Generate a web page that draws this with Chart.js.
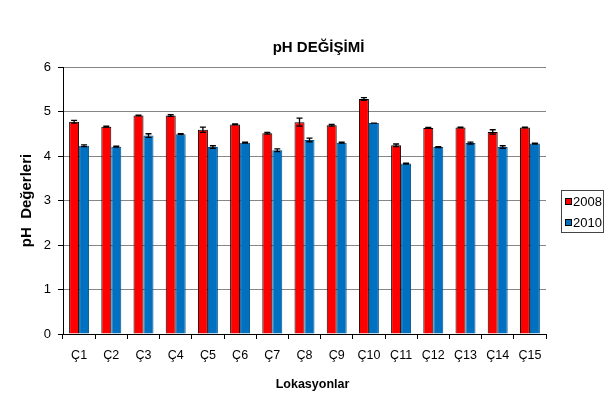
<!DOCTYPE html>
<html>
<head>
<meta charset="utf-8">
<script src="https://cdn.jsdelivr.net/npm/chart.js@4.4.0/dist/chart.umd.min.js"></script>
<style>
  html, body { margin: 0; padding: 0; background: #fff; }
  #wrap { width: 610px; height: 414px; }
</style>
</head>
<body>
<div id="wrap"><canvas id="phChart"></canvas></div>
<script>
const locations = ['Ç1', 'Ç2', 'Ç3', 'Ç4', 'Ç5', 'Ç6', 'Ç7', 'Ç8', 'Ç9', 'Ç10', 'Ç11', 'Ç12', 'Ç13', 'Ç14', 'Ç15'];
const ph2008 = [4.77, 4.66, 4.91, 4.91, 4.59, 4.71, 4.51, 4.76, 4.69, 5.28, 4.24, 4.63, 4.64, 4.54, 4.64];
const ph2010 = [4.23, 4.21, 4.46, 4.49, 4.20, 4.30, 4.13, 4.36, 4.30, 4.74, 3.83, 4.20, 4.29, 4.20, 4.28];
const err2008 = [0.03, 0.01, 0.01, 0.02, 0.06, 0.01, 0.02, 0.09, 0.02, 0.03, 0.03, 0.01, 0.01, 0.05, 0.01];
const err2010 = [0.02, 0.01, 0.04, 0.01, 0.03, 0.01, 0.03, 0.04, 0.01, 0.00, 0.01, 0.01, 0.02, 0.03, 0.01];
const yMin = 0, yMax = 6, yStep = 1;

const FONT = '"Liberation Sans", Arial, sans-serif';

// error bars drawn on top of the bars, through the y scale
const errorBars = {
    id: 'errorBars',
    afterDatasetsDraw(chart) {
        const ctx = chart.ctx;
        const y = chart.scales.y;
        [err2008, err2010].forEach((errs, d) => {
            const vals = chart.data.datasets[d].data;
            chart.getDatasetMeta(d).data.forEach((bar, i) => {
                const top = y.getPixelForValue(vals[i] + errs[i]);
                const bot = y.getPixelForValue(vals[i] - errs[i]);
                ctx.save();
                ctx.strokeStyle = '#000';
                ctx.lineWidth = 1.3;
                ctx.beginPath();
                ctx.moveTo(bar.x, top); ctx.lineTo(bar.x, bot);
                ctx.moveTo(bar.x - 3, top); ctx.lineTo(bar.x + 3, top);
                ctx.moveTo(bar.x - 3, bot); ctx.lineTo(bar.x + 3, bot);
                ctx.stroke();
                ctx.restore();
            });
        });
    }
};

// chart title, x title and boxed legend (Excel style)
const decor = {
    id: 'decor',
    afterDraw(chart) {
        const {ctx, chartArea} = chart;
        const cx = (chartArea.left + chartArea.right) / 2;
        ctx.save();
        ctx.fillStyle = '#000';
        ctx.textAlign = 'center';
        ctx.textBaseline = 'middle';
        ctx.font = 'bold 15px ' + FONT;
        ctx.fillText('pH DEĞİŞİMİ', cx + 14, 48);
        ctx.font = 'bold 12.5px ' + FONT;
        ctx.fillText('Lokasyonlar', cx + 8, 385);

        const lx = chartArea.right + 15;
        const ly = 190;
        ctx.strokeStyle = '#444';
        ctx.lineWidth = 1;
        ctx.strokeRect(lx + 0.5, ly + 0.5, 42, 42);
        ctx.textAlign = 'left';
        ctx.font = '13px ' + FONT;
        chart.data.datasets.forEach((ds, i) => {
            const cy = ly + 11 + i * 21;
            ctx.fillStyle = ds.backgroundColor;
            ctx.fillRect(lx + 4, cy - 3, 7, 7);
            ctx.strokeStyle = '#000';
            ctx.strokeRect(lx + 4.5, cy - 2.5, 6, 6);
            ctx.fillStyle = '#000';
            ctx.fillText(ds.label, lx + 12, cy + 1);
        });
        ctx.restore();
    }
};

const ctx1 = document.getElementById('phChart').getContext('2d');
const phChart = new Chart(ctx1, {
    type: 'bar',
    data: {
        labels: locations,
        datasets: [{
            label: '2008',
            data: ph2008,
            backgroundColor: '#ff0000',
            borderColor: '#000',
            borderWidth: 1
        }, {
            label: '2010',
            data: ph2010,
            backgroundColor: '#0070c0',
            borderColor: '#00508c',
            borderWidth: 1
        }]
    },
    options: {
        responsive: true,
        maintainAspectRatio: false,
        animation: false,
        layout: { padding: { top: 67, right: 64, bottom: 50, left: 0 } },
        datasets: { bar: { categoryPercentage: 0.62, barPercentage: 1.0 } },
        plugins: {
            legend: { display: false },
            title: { display: false },
            tooltip: { enabled: false }
        },
        scales: {
            x: {
                grid: { drawOnChartArea: false, drawTicks: true, tickLength: 5, tickColor: '#000' },
                border: { color: '#000' },
                ticks: { color: '#000', font: { family: FONT, size: 12.5 }, padding: 9 },
                afterFit: (s) => { s.height = 30; }
            },
            y: {
                min: yMin,
                max: yMax,
                ticks: { stepSize: yStep, color: '#000', font: { family: FONT, size: 13 }, padding: 7 },
                grid: {
                    color: (c) => c.tick && c.tick.value === 0 ? '#000' : '#868686',
                    tickLength: 5,
                    tickColor: '#000'
                },
                border: { color: '#000' },
                title: {
                    display: true,
                    text: 'pH  Değerleri',
                    color: '#000',
                    font: { family: FONT, size: 15, weight: 'bold' },
                    padding: { top: 18, bottom: 0 }
                },
                afterFit: (s) => { s.width = 63; }
            }
        }
    },
    plugins: [errorBars, decor]
});
</script>
</body>
</html>
